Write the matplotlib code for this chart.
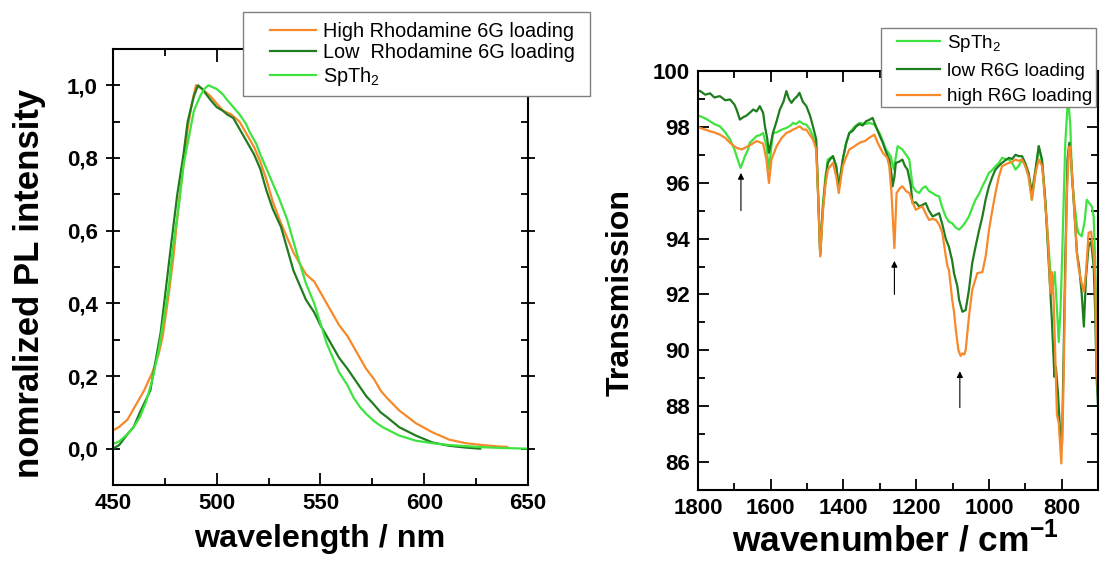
import matplotlib
matplotlib.use("Agg")
import matplotlib.pyplot as plt
from matplotlib.ticker import MultipleLocator
from matplotlib.patches import Rectangle

plt.rcParams['font.family'] = 'Liberation Sans'
plt.rcParams['mathtext.fontset'] = 'custom'
plt.rcParams['mathtext.rm'] = 'Liberation Sans'
plt.rcParams['mathtext.bf'] = 'Liberation Sans:bold'

# --- PL spectra (left) ---
wl_high = [450, 453, 457, 460, 465, 469, 472, 474, 477, 479, 482, 484, 486, 488, 490, 493,
           497, 500, 503, 507, 511, 514, 518, 521, 524, 527, 531, 534, 537, 540, 543, 547,
           550, 553, 556, 559, 563, 566, 569, 572, 576, 579, 582, 588, 596, 604, 612, 620,
           628, 636, 640]
pl_high = [0.05, 0.06, 0.08, 0.11, 0.16, 0.21, 0.26, 0.31, 0.43, 0.52, 0.69, 0.78, 0.88, 0.95, 1.0, 0.99,
           0.97, 0.95, 0.93, 0.92, 0.90, 0.87, 0.83, 0.79, 0.74, 0.68, 0.62, 0.58, 0.54, 0.51, 0.48, 0.46,
           0.43, 0.40, 0.37, 0.34, 0.31, 0.28, 0.25, 0.22, 0.19, 0.16, 0.14, 0.105, 0.07, 0.045, 0.025, 0.015,
           0.01, 0.006, 0.005]

wl_low = [450, 453, 457, 460, 463, 468, 473, 478, 481, 484, 486, 489, 491, 493, 495, 497,
          500, 503, 505, 508, 511, 514, 518, 521, 524, 527, 531, 534, 537, 540, 543, 547,
          550, 553, 556, 559, 563, 566, 569, 572, 576, 579, 582, 588, 596, 604, 612, 620, 627]
pl_low = [0.0, 0.01, 0.04, 0.06, 0.10, 0.16, 0.32, 0.56, 0.70, 0.81, 0.90, 0.97, 1.0, 0.99, 0.975, 0.96,
          0.94, 0.93, 0.92, 0.91, 0.88, 0.85, 0.81, 0.77, 0.71, 0.66, 0.61, 0.55, 0.49, 0.45, 0.41, 0.375,
          0.34, 0.31, 0.28, 0.25, 0.22, 0.195, 0.17, 0.145, 0.12, 0.10, 0.087, 0.059, 0.036, 0.017, 0.008, 0.003, 0.0]

wl_spth = [450, 453, 457, 460, 463, 466, 469, 472, 474, 477, 479, 482, 484, 487, 489, 492,
           494, 496, 498, 500, 503, 505, 508, 511, 514, 516, 519, 521, 524, 527, 530, 534,
           537, 540, 543, 547, 550, 553, 556, 559, 563, 566, 569, 572, 576, 580, 588, 596,
           604, 612, 620, 628, 637, 650]
pl_spth = [0.013, 0.02, 0.04, 0.06, 0.087, 0.13, 0.19, 0.27, 0.34, 0.45, 0.56, 0.68, 0.78, 0.87, 0.93, 0.97,
           0.99, 1.0, 0.995, 0.99, 0.975, 0.96, 0.94, 0.92, 0.895, 0.87, 0.84, 0.81, 0.77, 0.73, 0.69, 0.63,
           0.57, 0.51, 0.455, 0.40, 0.345, 0.29, 0.25, 0.21, 0.175, 0.14, 0.115, 0.096, 0.075, 0.059, 0.036, 0.022,
           0.015, 0.01, 0.007, 0.004, 0.002, 0.0]

pl_yticks = [0.0, 0.2, 0.4, 0.6, 0.8, 1.0]
pl_ylabels = ['0,0', '0,2', '0,4', '0,6', '0,8', '1,0']

# --- IR spectra (right) ---
wn_low = [1800, 1794, 1780, 1767, 1755, 1740, 1725, 1712, 1700, 1694, 1685, 1675, 1667, 1658, 1648, 1639,
          1630, 1621, 1616, 1610, 1605, 1600, 1594, 1584, 1575, 1565, 1557, 1550, 1543, 1535, 1527, 1521,
          1512, 1502, 1492, 1484, 1475, 1470, 1464, 1457, 1450, 1443, 1436, 1429, 1420, 1413, 1402, 1393,
          1384, 1375, 1365, 1356, 1347, 1338, 1329, 1320, 1311, 1301, 1292, 1283, 1274, 1268, 1265, 1260,
          1256, 1247, 1238, 1231, 1224, 1215, 1210, 1201, 1192, 1183, 1174, 1165, 1155, 1146, 1137, 1128,
          1119, 1110, 1101, 1096, 1087, 1082, 1073, 1064, 1055, 1046, 1037, 1027, 1018, 1009, 1000, 991,
          982, 973, 964, 955, 945, 936, 927, 918, 909, 900, 891, 882, 872, 863, 854, 845,
          836, 827, 820, 816, 810, 804, 799, 795, 790, 784, 779, 774, 767, 758, 752, 745,
          739, 733, 726, 719, 712, 708, 704, 700]
tr_low = [99.3, 99.28, 99.15, 99.2, 99.05, 99.1, 98.95, 98.98, 98.8, 98.62, 98.26, 98.35, 98.4, 98.5, 98.62, 98.55,
          98.74, 98.5, 98.02, 97.6, 97.07, 97.4, 97.78, 98.2, 98.62, 98.9, 99.28, 99.0, 98.86, 99.0, 99.1, 99.22,
          98.9, 98.74, 98.4, 98.02, 97.55, 95.63, 93.42, 95.03, 96.0, 96.71, 96.85, 96.95, 96.59, 95.81, 96.83, 97.4,
          97.78, 97.85, 98.02, 98.1, 98.05, 98.2, 98.25, 98.32, 98.02, 97.7, 97.43, 97.1, 96.83, 96.3, 95.87, 96.2,
          96.71, 96.75, 96.83, 96.6, 96.47, 95.9, 95.27, 95.3, 95.15, 95.2, 95.27, 95.0, 94.79, 94.85, 94.91, 94.5,
          94.0, 93.7, 93.2, 92.76, 92.3, 91.8, 91.38, 91.44, 92.16, 93.12, 93.7, 94.3, 94.79, 95.4, 95.87, 96.2,
          96.47, 96.6, 96.71, 96.8, 96.89, 96.85, 97.0, 96.95, 96.95, 96.7, 96.35, 95.63, 96.47, 97.31, 96.83, 95.39,
          93.24, 91.1, 89.05, 89.4, 88.45, 87.0, 86.66, 89.65, 93.24, 96.83, 97.43, 96.83, 95.39, 93.48, 93.0, 92.04,
          90.85, 92.64, 93.72, 93.9, 93.0, 91.44, 89.05, 88.0]

wn_high = [1800, 1794, 1780, 1767, 1755, 1740, 1725, 1712, 1700, 1694, 1680, 1671, 1662, 1650, 1639, 1630,
           1621, 1612, 1605, 1598, 1590, 1584, 1570, 1557, 1545, 1539, 1530, 1521, 1510, 1502, 1492, 1484,
           1475, 1470, 1464, 1457, 1450, 1443, 1429, 1420, 1413, 1402, 1393, 1384, 1370, 1356, 1340, 1329,
           1315, 1306, 1292, 1280, 1274, 1268, 1260, 1254, 1245, 1238, 1228, 1219, 1210, 1201, 1192, 1183,
           1174, 1165, 1155, 1146, 1137, 1128, 1119, 1114, 1110, 1101, 1096, 1091, 1084, 1078, 1073, 1068,
           1064, 1055, 1046, 1032, 1018, 1009, 1000, 991, 982, 973, 964, 955, 945, 936, 927, 918,
           909, 900, 891, 882, 872, 863, 854, 850, 845, 840, 836, 831, 827, 822, 816, 813,
           808, 804, 801, 797, 795, 790, 786, 781, 778, 774, 767, 758, 754, 745, 739, 733,
           726, 719, 712, 708, 704, 700]
tr_high = [98.0, 97.96, 97.9, 97.84, 97.8, 97.72, 97.6, 97.43, 97.3, 97.25, 97.19, 97.25, 97.31, 97.4, 97.49, 97.45,
           97.4, 96.83, 95.99, 96.83, 97.1, 97.31, 97.6, 97.78, 97.85, 97.9, 97.95, 98.02, 97.9, 97.9, 97.7, 97.55,
           97.19, 95.63, 93.36, 94.91, 95.9, 96.47, 96.71, 96.23, 95.63, 96.59, 96.9, 97.19, 97.3, 97.43, 97.5, 97.61,
           97.72, 97.43, 97.07, 96.9, 96.59, 95.63, 93.66, 95.63, 95.8, 95.87, 95.7, 95.63, 95.3, 95.03, 95.1, 95.15,
           94.9, 94.67, 94.7, 94.67, 94.5, 94.2, 93.4, 93.0, 92.88, 91.8, 91.38, 90.73, 90.01, 89.8, 89.89, 89.85,
           90.01, 91.2, 92.16, 92.76, 92.8, 93.36, 94.3, 95.0, 95.63, 96.2, 96.59, 96.65, 96.71, 96.75, 96.83, 96.78,
           96.83, 96.6, 96.23, 95.39, 96.35, 96.83, 96.6, 96.11, 95.2, 94.44, 93.5, 92.04, 92.8, 91.8, 89.0, 87.7,
           87.4, 86.6, 85.95, 87.5, 88.8, 92.4, 95.5, 97.0, 97.3, 96.8, 95.39, 93.5, 93.0, 92.4, 92.1, 92.8,
           94.2, 94.25, 93.4, 92.6, 89.65, 88.5]

wn_spth = [1800, 1794, 1780, 1767, 1755, 1740, 1725, 1712, 1700, 1694, 1683, 1675, 1671, 1662, 1658, 1648,
           1639, 1630, 1621, 1612, 1605, 1598, 1594, 1584, 1570, 1557, 1545, 1539, 1530, 1521, 1510, 1502,
           1492, 1484, 1475, 1470, 1464, 1457, 1450, 1443, 1429, 1420, 1413, 1402, 1393, 1384, 1370, 1356,
           1340, 1329, 1315, 1301, 1292, 1283, 1270, 1262, 1251, 1245, 1238, 1228, 1219, 1215, 1210, 1201,
           1192, 1183, 1174, 1165, 1155, 1146, 1137, 1128, 1119, 1110, 1101, 1092, 1082, 1073, 1064, 1055,
           1046, 1037, 1027, 1018, 1009, 1000, 991, 982, 973, 964, 955, 945, 936, 927, 918, 909,
           900, 891, 882, 872, 863, 854, 845, 836, 827, 819, 813, 808, 803, 799, 790, 784,
           781, 776, 772, 767, 758, 754, 745, 737, 731, 726, 717, 712, 708, 704, 700]
tr_spth = [98.4, 98.38, 98.3, 98.2, 98.1, 98.02, 97.8, 97.55, 97.2, 96.95, 96.53, 96.8, 96.95, 97.2, 97.43, 97.55,
           97.67, 97.7, 97.78, 97.31, 96.47, 97.31, 97.78, 97.8, 97.9, 97.96, 98.05, 98.14, 98.1, 98.2, 98.1, 98.08,
           97.9, 97.67, 97.31, 95.63, 93.42, 95.15, 96.2, 96.83, 96.95, 96.59, 95.87, 96.83, 97.4, 97.78, 98.0, 98.14,
           98.1, 98.14, 98.08, 97.78, 97.5, 97.19, 96.95, 96.47, 97.31, 97.25, 97.19, 97.0, 96.83, 96.4, 95.87, 95.7,
           95.63, 95.8, 95.87, 95.7, 95.63, 95.55, 95.51, 95.1, 94.79, 94.6, 94.55, 94.4, 94.32, 94.44, 94.6, 94.79,
           95.1, 95.39, 95.6, 95.87, 96.1, 96.35, 96.45, 96.59, 96.7, 96.89, 96.85, 96.83, 96.7, 96.47, 96.6, 96.83,
           96.6, 96.23, 95.39, 96.35, 97.31, 96.7, 95.27, 93.72, 92.04, 92.8, 91.5, 90.3, 91.5, 93.24, 97.43, 98.74,
           98.86, 98.0, 96.23, 95.5, 94.44, 94.2, 94.08, 94.6, 95.39, 95.3, 95.15, 94.8, 93.24, 90.85, 89.5]

ir_xticks = [1800, 1600, 1400, 1200, 1000, 800]
ir_yticks = [86, 88, 90, 92, 94, 96, 98, 100]

# arrows: (wavenumber, tail T, head T)
arrows = [(1682, 94.9, 96.45), (1260, 91.9, 93.3), (1080, 87.85, 89.35)]

orange = '#F7892B'
dgreen = '#1F7D1F'
lgreen = '#3FE33F'

W, H = 1101, 571
fig = plt.figure(figsize=(11.01, 5.71), dpi=100)


def box(x0, y0, x1, y1):
    # legend frame in pixel coords (top-left origin)
    r = Rectangle((x0 / W, 1 - y1 / H), (x1 - x0) / W, (y1 - y0) / H, transform=fig.transFigure,
                  facecolor='white', edgecolor='#808080', lw=1.0, zorder=3)
    fig.add_artist(r)


# left panel
ax1 = fig.add_axes([0.1026, 0.1506, 0.3769, 0.7636])
h1 = ax1.plot(wl_high, pl_high, color=orange, lw=1.6)[0]
h2 = ax1.plot(wl_low, pl_low, color=dgreen, lw=1.6)[0]
h3 = ax1.plot(wl_spth, pl_spth, color=lgreen, lw=1.6)[0]
ax1.set_xlim(450, 650)
ax1.set_ylim(-0.1, 1.1)
ax1.xaxis.set_major_locator(MultipleLocator(50))
ax1.xaxis.set_minor_locator(MultipleLocator(25))
ax1.set_yticks(pl_yticks)
ax1.set_yticklabels(pl_ylabels)
ax1.yaxis.set_minor_locator(MultipleLocator(0.1))
ax1.tick_params(axis='x', which='both', direction='in', top=True)
ax1.tick_params(axis='x', which='major', length=9, width=1.3)
ax1.tick_params(axis='x', which='minor', length=5, width=1.3)
ax1.tick_params(axis='y', which='major', direction='inout', length=10, width=1.3, right=True)
ax1.tick_params(axis='y', which='minor', direction='in', length=5, width=1.3, right=True)
ax1.tick_params(labelsize=16, pad=6)
for lab in ax1.get_xticklabels() + ax1.get_yticklabels():
    lab.set_fontweight('bold')
for sp in ax1.spines.values():
    sp.set_linewidth(1.5)

box(243, 12, 590, 96)
fig.legend([h1, h2, h3], ['High Rhodamine 6G loading', 'Low  Rhodamine 6G loading', 'SpTh$_\\mathregular{2}$'],
           loc='upper left', bbox_to_anchor=(270 / W, 1 - 22 / H), fontsize=14.3, frameon=False,
           handlelength=2.3, handletextpad=0.35, labelspacing=0.12, borderpad=0, borderaxespad=0)

fig.text(0.027, 0.503, 'nomralized PL intensity', rotation=90, ha='center', va='center',
         fontsize=25, fontweight='bold')
fig.text(0.290, 0.056, 'wavelength / nm', ha='center', va='center', fontsize=23.2, fontweight='bold')

# right panel
ax2 = fig.add_axes([0.634, 0.1419, 0.3633, 0.7338])
g1 = ax2.plot(wn_spth, tr_spth, color=lgreen, lw=1.6)[0]
g2 = ax2.plot(wn_low, tr_low, color=dgreen, lw=1.6)[0]
g3 = ax2.plot(wn_high, tr_high, color=orange, lw=1.6)[0]
for wn, t0, t1 in arrows:
    ax2.annotate('', xy=(wn, t1), xytext=(wn, t0),
                 arrowprops=dict(arrowstyle='-|>', color='black', lw=0.8, mutation_scale=9))
ax2.set_xlim(1800, 700)
ax2.set_ylim(85, 100)
ax2.set_xticks(ir_xticks)
ax2.xaxis.set_minor_locator(MultipleLocator(100))
ax2.set_yticks(ir_yticks)
ax2.yaxis.set_minor_locator(MultipleLocator(1))
ax2.tick_params(which='both', direction='in', top=True, right=True, width=1.3)
ax2.tick_params(which='major', length=8)
ax2.tick_params(which='minor', length=5)
ax2.tick_params(labelsize=16, pad=6)
for lab in ax2.get_xticklabels() + ax2.get_yticklabels():
    lab.set_fontweight('bold')
for sp in ax2.spines.values():
    sp.set_linewidth(1.5)

box(881, 28, 1096, 107)
fig.legend([g1, g2, g3], ['SpTh$_\\mathregular{2}$', 'low R6G loading', 'high R6G loading'],
           loc='upper left', bbox_to_anchor=(897 / W, 1 - 33 / H), fontsize=13.6, frameon=False,
           handlelength=2.3, handletextpad=0.37, labelspacing=0.45, borderpad=0, borderaxespad=0)

fig.text(0.564, 0.488, 'Transmission', rotation=90, ha='center', va='center',
         fontsize=23.1, fontweight='bold')
fig.text(0.813, 0.054, 'wavenumber / cm$^{\\mathregular{-1}}$', ha='center', va='center',
         fontsize=25.5, fontweight='bold')

fig.savefig('out.png', dpi=100)
